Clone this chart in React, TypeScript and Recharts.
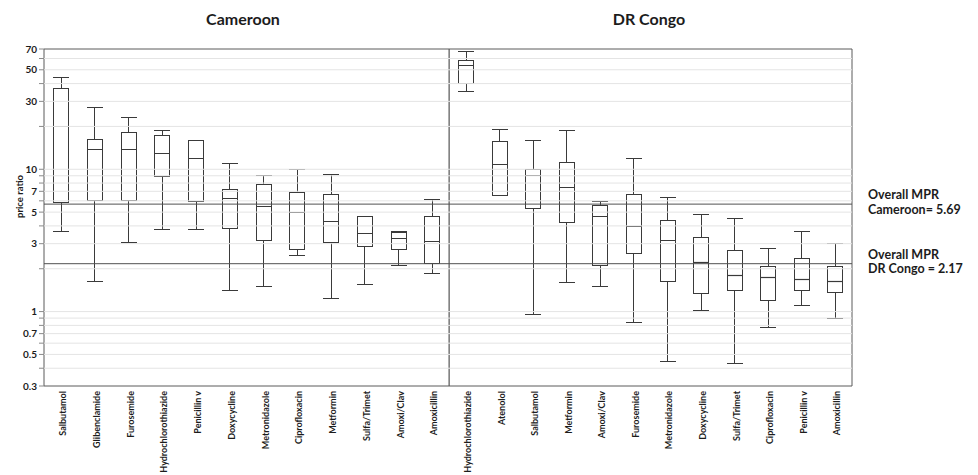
import React from 'react';
import { ComposedChart, Bar, XAxis, YAxis, ReferenceLine, ReferenceArea } from 'recharts';

const FONT = 'Lato, "Open Sans", "DejaVu Sans", sans-serif';
const INK = '#1c1c1c';
const BOX = '#3a3a3a';

// ---- Cameroon ----
const camNames = ['Salbutamol', 'Glibenclamide', 'Furosemide', 'Hydrochlorothiazide', 'Penicillin v', 'Doxycycline', 'Metronidazole', 'Ciprofloxacin', 'Metformin', 'Sulfa/Trimet', 'Amoxi/Clav', 'Amoxicillin'];
const camMin = [3.7, 1.64, 3.06, 3.78, 3.8, 1.41, 1.51, 2.5, 1.25, 1.56, 2.13, 1.88];
const camQ1 = [5.85, 6.07, 6.07, 8.95, 5.97, 3.84, 3.16, 2.76, 3.09, 2.9, 2.77, 2.19];
const camMed = [20.2, 13.9, 13.8, 13.1, 12.0, 6.3, 5.51, 4.98, 4.35, 3.56, 3.27, 3.11];
const camQ3 = [37.2, 16.3, 18.3, 17.3, 16.1, 7.29, 7.87, 6.87, 6.72, 4.69, 3.6, 4.68];
const camMax = [44.3, 27.5, 23.4, 19.0, 16.1, 11.0, 9.14, 10.0, 9.29, 4.69, 3.69, 6.2];

// ---- DR Congo ----
const drcNames = ['Hydrochlorothiazide', 'Atenolol', 'Salbutamol', 'Metformin', 'Amoxi/Clav', 'Furosemide', 'Metronidazole', 'Doxycycline', 'Sulfa/Trimet', 'Ciprofloxacin', 'Penicillin v', 'Amoxicillin'];
const drcMin = [35.5, 6.58, 0.963, 1.61, 1.51, 0.85, 0.446, 1.03, 0.436, 0.78, 1.11, 0.9];
const drcQ1 = [40.2, 6.58, 5.31, 4.23, 2.14, 2.56, 1.64, 1.35, 1.41, 1.21, 1.41, 1.38];
const drcMed = [53.8, 10.9, 9.1, 7.53, 4.69, 3.98, 3.18, 2.24, 1.81, 1.74, 1.69, 1.64];
const drcQ3 = [58.8, 15.7, 10.1, 11.2, 5.63, 6.72, 4.39, 3.34, 2.7, 2.08, 2.38, 2.08];
const drcMax = [67.4, 19.2, 16.0, 18.8, 5.94, 12.0, 6.4, 4.86, 4.56, 2.79, 3.67, 3.03];

// ---- axis ----
const yDomain = [0.3, 70];
const yTicks = [0.3, 0.4, 0.5, 0.6, 0.7, 0.8, 0.9, 1, 2, 3, 4, 5, 6, 7, 8, 9, 10, 20, 30, 40, 50, 60, 70];
const yTickLabels = [0.3, 0.5, 0.7, 1, 3, 5, 7, 10, 30, 50, 70];
const gridValues = [0.4, 0.5, 0.6, 0.7, 0.8, 0.9, 1, 2, 3, 4, 5, 6, 7, 8, 9, 10, 20, 30, 40, 50, 60];

const mprCameroon = 5.69;
const mprDrc = 2.17;
const mprCameroonLabel = ['Overall MPR', 'Cameroon= 5.69'];
const mprDrcLabel = ['Overall MPR', 'DR Congo = 2.17'];

function build(names: string[], mn: number[], q1: number[], med: number[], q3: number[], mx: number[]) {
  return names.map((name, i) => ({
    name,
    whisker: [mn[i], mx[i]],
    box: [q1[i], q3[i]],
    median: [med[i], med[i]],
  }));
}

const camData = build(camNames, camMin, camQ1, camMed, camQ3, camMax);
const drcData = build(drcNames, drcMin, drcQ1, drcMed, drcQ3, drcMax);

const px = (v: number) => Math.round(v) + 0.5;

const WhiskerShape = (p: any) => {
  const { x, y, width, height } = p;
  const top = px(Math.min(y, y + height));
  const bot = px(Math.max(y, y + height));
  const cx = px(x + width / 2 - 0.5);
  const l = Math.round(x);
  const r = Math.round(x + width);
  return (
    <g stroke={BOX} strokeWidth={1} fill="none">
      <line x1={cx} x2={cx} y1={top} y2={bot} />
      <line x1={l} x2={r} y1={top} y2={top} />
      <line x1={l} x2={r} y1={bot} y2={bot} />
    </g>
  );
};

const BoxShape = (p: any) => {
  const { x, y, width, height } = p;
  const top = px(Math.min(y, y + height));
  const bot = px(Math.max(y, y + height));
  const l = px(x);
  const r = px(x + width - 1);
  return <rect x={l} y={top} width={r - l} height={Math.max(bot - top, 0)} fill="#ffffff" stroke={BOX} strokeWidth={1} />;
};

const MedianShape = (p: any) => {
  const { x, y, width } = p;
  const yy = px(y);
  return <line x1={Math.round(x)} x2={Math.round(x + width)} y1={yy} y2={yy} stroke={BOX} strokeWidth={1.2} />;
};

const CatTick = (p: any) => {
  const { x, y, payload } = p;
  return (
    <text
      x={x + 2}
      y={y}
      transform={`rotate(-90 ${x + 2} ${y})`}
      textAnchor="end"
      dy="0.35em"
      fontFamily={FONT}
      fontSize={9}
      fontWeight={700}
      fill={INK}
    >
      {payload.value}
    </text>
  );
};

const YTick = (p: any) => {
  const { x, y, payload } = p;
  if (!yTickLabels.includes(payload.value)) return <g />;
  return (
    <text x={x} y={y} dy="0.36em" textAnchor="end" fontFamily={FONT} fontSize={10} fontWeight={700} fill={INK}>
      {String(payload.value)}
    </text>
  );
};

const YLabel = (p: any) => {
  const vb = p.viewBox || { x: 0, y: 0, width: 0, height: 0 };
  const cx = vb.x + 20;
  const cy = vb.y + vb.height / 2 - 21;
  return (
    <text x={cx} y={cy} transform={`rotate(-90 ${cx} ${cy})`} textAnchor="middle" dy="0.35em" fontFamily={FONT} fontSize={9.5} fontWeight={700} fill={INK}>
      price ratio
    </text>
  );
};

const MprLabel = (p: any) => {
  const { viewBox, lines } = p;
  if (!viewBox) return null;
  const x = viewBox.x + viewBox.width + 16;
  const y = viewBox.y;
  return (
    <text x={x} y={y} fontFamily={FONT} fontSize={12.5} fontWeight={700} fill={INK}>
      <tspan x={x} dy={-5}>{lines[0]}</tspan>
      <tspan x={x} dy={14.5}>{lines[1]}</tspan>
    </text>
  );
};

function Panel({ data, showY, width, margin, labels }: any) {
  return (
    <ComposedChart width={width} height={475} data={data} margin={margin}>
      <XAxis xAxisId={0} dataKey="name" type="category" interval={0} height={85} axisLine={false} tickLine={false} tickSize={0} tickMargin={5} tick={<CatTick />} />
      <XAxis xAxisId={1} dataKey="name" type="category" hide />
      <XAxis xAxisId={2} dataKey="name" type="category" hide />
      {showY ? (
        <YAxis
          type="number"
          scale="log"
          domain={yDomain}
          allowDataOverflow
          ticks={yTicks}
          interval={0}
          width={44}
          axisLine={false}
          tickLine={{ stroke: '#8a8a8a' }}
          tickSize={5}
          tickMargin={2}
          tick={<YTick />}
          label={<YLabel />}
        />
      ) : (
        <YAxis type="number" scale="log" domain={yDomain} allowDataOverflow ticks={yTicks} hide />
      )}
      {gridValues.map((v) => (
        <ReferenceLine key={v} y={v} stroke="#e4e4e4" strokeWidth={1} />
      ))}
      <ReferenceLine y={mprCameroon} stroke="#505050" strokeWidth={1} label={labels ? <MprLabel lines={mprCameroonLabel} /> : undefined} />
      <ReferenceLine y={mprDrc} stroke="#505050" strokeWidth={1} label={labels ? <MprLabel lines={mprDrcLabel} /> : undefined} />
      <Bar xAxisId={1} dataKey="whisker" barSize={16} shape={<WhiskerShape />} isAnimationActive={false} />
      <Bar xAxisId={0} dataKey="box" barSize={16} shape={<BoxShape />} isAnimationActive={false} />
      <Bar xAxisId={2} dataKey="median" barSize={16} shape={<MedianShape />} isAnimationActive={false} />
      <ReferenceArea y1={yDomain[0]} y2={yDomain[1]} fill="none" stroke="#5a5a5a" strokeWidth={1} ifOverflow="visible" />
    </ComposedChart>
  );
}

export default function App() {
  return (
    <div style={{ position: 'absolute', left: 0, top: 0, width: 978, height: 475, background: '#fff', overflow: 'hidden' }}>
      <div style={{ position: 'absolute', left: 0, top: 0 }}>
        <Panel data={camData} showY width={450} margin={{ top: 49, right: 1, bottom: 4, left: 0 }} labels={false} />
      </div>
      <div style={{ position: 'absolute', left: 449, top: 0 }}>
        <Panel data={drcData} showY={false} width={529} margin={{ top: 49, right: 126, bottom: 4, left: 0 }} labels />
      </div>
      <svg width={978} height={475} style={{ position: 'absolute', left: 0, top: 0, pointerEvents: 'none' }}>
        <text x={243} y={25} textAnchor="middle" fontFamily={FONT} fontSize={16} fontWeight={700} fill={INK}>Cameroon</text>
        <text x={649} y={25} textAnchor="middle" fontFamily={FONT} fontSize={16} fontWeight={700} fill={INK}>DR Congo</text>
      </svg>
    </div>
  );
}
